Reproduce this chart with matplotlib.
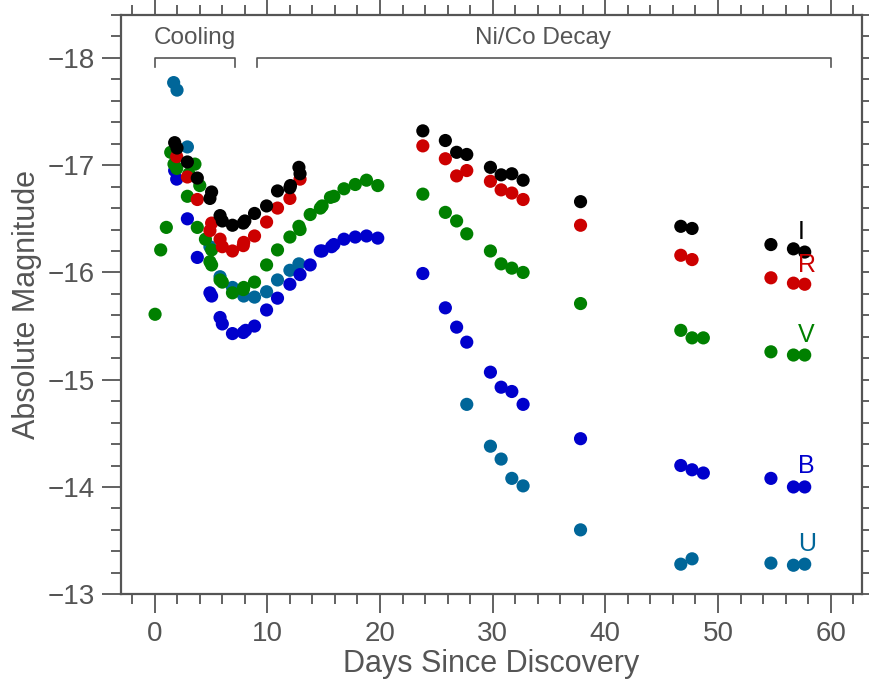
import matplotlib
matplotlib.use('Agg')
import matplotlib.pyplot as plt
from matplotlib.ticker import MultipleLocator

plt.rcParams['font.family'] = ['Liberation Sans Narrow', 'Liberation Sans', 'DejaVu Sans']

# days since discovery / absolute magnitude
u_day = [1.68, 1.98, 2.9, 4.9, 5.8, 6.9, 7.9, 8.86, 9.93, 10.9, 12.0, 12.8,
         27.7, 29.8, 30.75, 31.7, 32.7, 37.8, 46.7, 47.7, 54.7, 56.7, 57.7]
u_mag = [-17.77, -17.70, -17.17, -16.24, -15.96, -15.86, -15.78, -15.77, -15.82, -15.93, -16.02, -16.08,
         -14.77, -14.38, -14.26, -14.08, -14.01, -13.60, -13.28, -13.33, -13.29, -13.27, -13.28]

b_day = [1.77, 1.95, 2.9, 3.78, 4.9, 5.05, 5.8, 6.0, 6.9, 7.86, 8.07, 8.86, 9.93, 10.9, 12.0, 12.9,
         13.8, 14.7, 14.86, 15.7, 15.9, 16.8, 17.8, 18.8, 19.8,
         23.8, 25.8, 26.8, 27.7, 29.8, 30.75, 31.7, 32.7, 37.8, 46.7, 47.7, 48.7, 54.7, 56.7, 57.7]
b_mag = [-16.95, -16.87, -16.50, -16.14, -15.81, -15.78, -15.58, -15.52, -15.43, -15.44, -15.46, -15.50,
         -15.65, -15.76, -15.89, -15.98, -16.07, -16.20, -16.20, -16.24, -16.26, -16.31, -16.33, -16.34, -16.32,
         -15.99, -15.67, -15.49, -15.35, -15.07, -14.93, -14.89, -14.77, -14.45, -14.20, -14.16, -14.13,
         -14.08, -14.00, -14.00]

v_day = [0.03, 0.53, 1.03, 1.42, 1.71, 1.95, 2.9, 3.04, 3.57, 3.78, 4.0, 4.5, 4.9, 5.05, 5.05, 5.8, 6.0,
         6.9, 7.86, 7.9, 8.86, 9.93, 10.9, 12.0, 12.8, 12.9, 13.8, 14.7, 14.86, 15.6, 15.9, 16.8, 17.8,
         18.8, 19.8,
         23.8, 25.8, 26.8, 27.7, 29.8, 30.75, 31.7, 32.7, 37.8, 46.7, 47.7, 48.7, 54.7, 56.7, 57.7]
v_mag = [-15.61, -16.21, -16.42, -17.12, -17.01, -16.97, -16.71, -16.92, -17.01, -16.42, -16.81, -16.31,
         -16.10, -16.21, -16.07, -15.93, -15.91, -15.81, -15.84, -15.86, -15.91, -16.07, -16.21, -16.33,
         -16.43, -16.40, -16.54, -16.60, -16.62, -16.70, -16.71, -16.78, -16.82, -16.86, -16.81,
         -16.73, -16.56, -16.48, -16.36, -16.20, -16.08, -16.04, -16.00, -15.71, -15.46, -15.39, -15.39,
         -15.26, -15.23, -15.23]

r_day = [1.95, 2.9, 3.78, 4.9, 5.05, 5.8, 6.0, 6.9, 7.86, 7.9, 8.86, 9.93, 10.9, 12.0, 12.9,
         23.8, 25.8, 26.8, 27.7, 29.8, 30.75, 31.7, 32.7, 37.8, 46.7, 47.7, 54.7, 56.7, 57.7]
r_mag = [-17.08, -16.89, -16.68, -16.39, -16.46, -16.31, -16.24, -16.20, -16.25, -16.28, -16.34, -16.47,
         -16.60, -16.69, -16.87,
         -17.18, -17.06, -16.90, -16.95, -16.85, -16.77, -16.74, -16.68, -16.44, -16.16, -16.12, -15.95,
         -15.90, -15.89]

i_day = [1.77, 1.98, 2.9, 3.78, 4.9, 5.05, 5.8, 6.0, 6.9, 7.86, 8.0, 8.86, 9.93, 10.9, 12.0, 12.05,
         12.8, 12.9,
         23.8, 25.8, 26.8, 27.7, 29.8, 30.75, 31.7, 32.7, 37.8, 46.7, 47.7, 54.7, 56.7, 57.7]
i_mag = [-17.21, -17.16, -17.03, -16.88, -16.69, -16.75, -16.53, -16.48, -16.44, -16.46, -16.48, -16.55,
         -16.62, -16.76, -16.79, -16.81, -16.98, -16.92,
         -17.32, -17.23, -17.12, -17.10, -16.98, -16.91, -16.92, -16.86, -16.66, -16.43, -16.41, -16.26,
         -16.22, -16.19]

bands = ['U', 'B', 'V', 'R', 'I']
colors = ['#006699', '#0000cc', '#008000', '#cc0000', '#000000']
label_mag = [-13.47, -14.20, -15.42, -16.07, -16.38]

gray = '#555555'

fig = plt.figure(figsize=(8.7, 6.83), dpi=100)
ax = fig.add_axes([0.139, 0.130, 0.852, 0.848])

for d, m, c in zip([u_day, b_day, v_day, r_day, i_day], [u_mag, b_mag, v_mag, r_mag, i_mag], colors):
    ax.scatter(d, m, s=90, color=c, edgecolors='none', zorder=3)

for b, c, y in zip(bands, colors, label_mag):
    ax.text(57.1, y, b, color=c, fontsize=18, ha='left', va='center')

# phase brackets
ax.plot([0, 0, 7.1, 7.1], [-17.92, -18.0, -18.0, -17.92], color=gray, lw=1.2)
ax.plot([9.1, 9.1, 60, 60], [-17.92, -18.0, -18.0, -17.92], color=gray, lw=1.2)
ax.text(3.55, -18.19, 'Cooling', color=gray, fontsize=17.5, ha='center', va='center')
ax.text(34.5, -18.19, 'Ni/Co Decay', color=gray, fontsize=17.5, ha='center', va='center')

ax.set_xlim(-3, 62.8)
ax.set_ylim(-13, -18.4)
ax.xaxis.set_major_locator(MultipleLocator(10))
ax.xaxis.set_minor_locator(MultipleLocator(2))
ax.yaxis.set_major_locator(MultipleLocator(1))
ax.yaxis.set_minor_locator(MultipleLocator(0.2))
ax.tick_params(which='both', direction='out', top=True, right=True, color=gray, width=1.3,
               labelcolor=gray, labelsize=20)
ax.tick_params(which='major', length=14, pad=5)
ax.tick_params(which='minor', length=7)
for s in ax.spines.values():
    s.set_color(gray)
    s.set_linewidth(1.6)

ax.set_xlabel('Days Since Discovery', fontsize=22, color=gray, labelpad=2)
ax.set_ylabel('Absolute Magnitude', fontsize=22, color=gray, labelpad=4)

fig.savefig('out.png', dpi=100)
